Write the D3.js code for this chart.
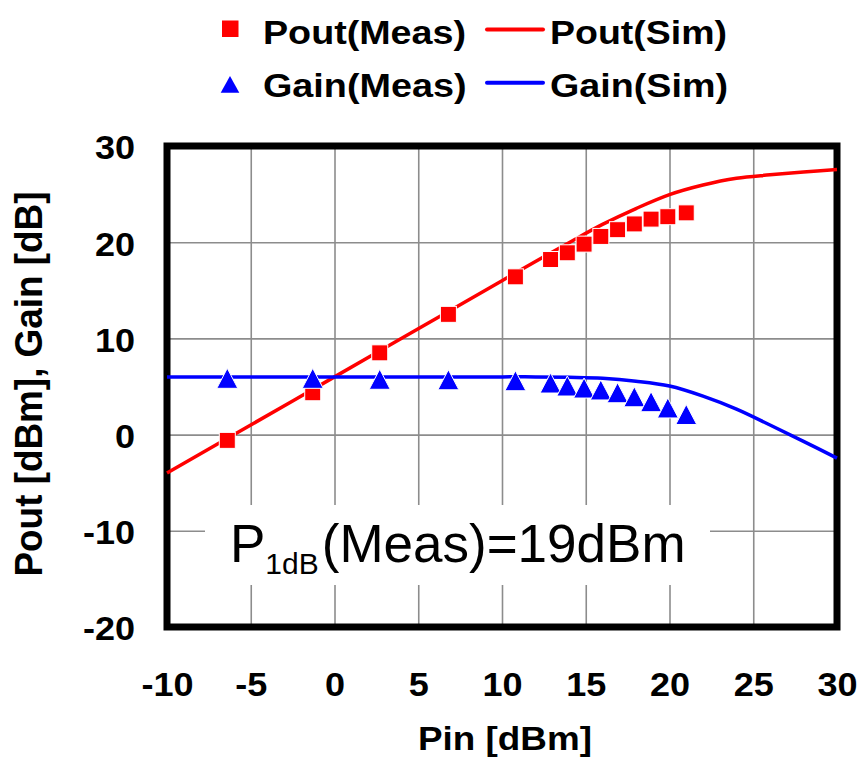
<!DOCTYPE html>
<html>
<head>
<meta charset="utf-8">
<script src="https://cdn.jsdelivr.net/npm/d3@7"></script>
<style>
    body { margin: 0; background: #fff; }
    text { font-family: "Liberation Sans", Arial, sans-serif; }
</style>
</head>
<body>
<svg id="chart" width="865" height="759"></svg>
<script>
// Measured points (Pin in dBm)
const measPin  = [-6.4, -1.3, 2.7, 6.8, 10.8, 12.9, 13.9, 14.9, 15.9, 16.9, 17.9, 18.9, 19.9, 21.0];
const poutMeas = [-0.6, 4.35, 8.5, 12.5, 16.4, 18.2, 18.9, 19.8, 20.6, 21.3, 21.9, 22.4, 22.65, 23.05];
const gainMeas = [5.85, 5.85, 5.75, 5.7, 5.6, 5.36, 5.05, 4.84, 4.64, 4.35, 3.93, 3.42, 2.77, 2.09];

// Simulated curves
const simPin  = [-10, -5, 0, 5, 10, 12, 14, 16, 18, 20, 22, 24, 26, 28, 30];
const poutSim = [-4.0, 1.0, 6.0, 11.0, 16.0, 18.0, 19.95, 21.85, 23.5, 24.95, 25.95, 26.65, 27.0, 27.3, 27.55];
const gainSim = [6.0, 6.0, 6.0, 6.0, 6.0, 6.0, 5.95, 5.85, 5.55, 5.05, 4.0, 2.65, 1.0, -0.7, -2.45];

const xTicks = [-10, -5, 0, 5, 10, 15, 20, 25, 30];
const yTicks = [-20, -10, 0, 10, 20, 30];

const svg = d3.select("#chart");
const plotLeft = 167, plotRight = 837, plotTop = 146, plotBottom = 627;

const x = d3.scaleLinear().domain([-10, 30]).range([plotLeft, plotRight]);
const y = d3.scaleLinear().domain([-20, 30]).range([plotBottom, plotTop]);

// widen text a bit, the original font runs wider than ours
function stretch(sel, k) {
    sel.each(function() {
        let w = this.getComputedTextLength();
        d3.select(this).attr("textLength", w * k).attr("lengthAdjust", "spacingAndGlyphs");
    });
}

// Grid
let gx = svg.append("g")
    .attr("transform", "translate(0," + plotBottom + ")")
    .call(d3.axisBottom(x).tickValues(xTicks).tickSize(-(plotBottom - plotTop)).tickFormat(""));
let gy = svg.append("g")
    .attr("transform", "translate(" + plotLeft + ",0)")
    .call(d3.axisLeft(y).tickValues(yTicks).tickSize(-(plotRight - plotLeft)).tickFormat(""));
[gx, gy].forEach(function(g) {
    g.select(".domain").remove();
    g.selectAll("line").attr("stroke", "#8c8c8c").attr("stroke-width", 1.6);
});

// white box behind the annotation
svg.append("rect")
    .attr("x", 205).attr("y", 505)
    .attr("width", 505).attr("height", 80)
    .attr("fill", "#fff");

// Frame
svg.append("rect")
    .attr("x", plotLeft).attr("y", plotTop)
    .attr("width", plotRight - plotLeft).attr("height", plotBottom - plotTop)
    .attr("fill", "none").attr("stroke", "#000").attr("stroke-width", 7);

// Tick labels
let xl = svg.append("g")
    .attr("transform", "translate(0," + plotBottom + ")")
    .call(d3.axisBottom(x).tickValues(xTicks).tickSize(0).tickFormat(d => String(d)));
xl.select(".domain").remove();
xl.selectAll("text")
    .attr("y", 69).attr("dy", 0)
    .attr("font-size", 34).attr("font-weight", "bold").attr("fill", "#000")
    .attr("font-family", "Liberation Sans, Arial, sans-serif");
stretch(xl.selectAll("text"), 1.06);

let yl = svg.append("g")
    .attr("transform", "translate(" + plotLeft + ",0)")
    .call(d3.axisLeft(y).tickValues(yTicks).tickSize(0).tickPadding(32).tickFormat(d => String(d)));
yl.select(".domain").remove();
yl.selectAll("text")
    .attr("dy", "0.38em")
    .attr("font-size", 34).attr("font-weight", "bold").attr("fill", "#000")
    .attr("font-family", "Liberation Sans, Arial, sans-serif");
stretch(yl.selectAll("text"), 1.06);

// Axis titles
let xt = svg.append("text")
    .attr("x", 505).attr("y", 750)
    .attr("text-anchor", "middle")
    .attr("font-size", 33.5).attr("font-weight", "bold")
    .text("Pin [dBm]");
xt.attr("textLength", 174).attr("lengthAdjust", "spacingAndGlyphs");

svg.append("text")
    .attr("transform", "translate(42,384) scale(1.12,1) rotate(-90)")
    .attr("text-anchor", "middle")
    .attr("font-size", 34).attr("font-weight", "bold")
    .attr("textLength", 385).attr("lengthAdjust", "spacingAndGlyphs")
    .text("Pout [dBm], Gain [dB]");

// Annotation
let ann = svg.append("text")
    .attr("x", 230).attr("y", 562)
    .attr("font-size", 53).attr("fill", "#000");
ann.append("tspan").text("P");
ann.append("tspan").attr("font-size", 30).attr("dy", 12).attr("dx", 0).text("1dB");
ann.append("tspan").attr("dy", -12).attr("dx", 3).text("(Meas)=19dBm");

// Simulated lines
const line = d3.line().curve(d3.curveCatmullRom.alpha(0.5));
function simPts(vals) {
    return simPin.map((p, i) => [x(p), y(vals[i])]);
}
svg.append("path")
    .attr("d", line(simPts(poutSim)))
    .attr("fill", "none").attr("stroke", "#ff0000").attr("stroke-width", 3.5);
svg.append("path")
    .attr("d", line(simPts(gainSim)))
    .attr("fill", "none").attr("stroke", "#0000ff").attr("stroke-width", 3.5);

// Measured markers
const sq = 16;
svg.append("g").selectAll("rect")
    .data(measPin)
    .enter()
    .append("rect")
    .attr("x", (d) => x(d) - sq / 2)
    .attr("y", (d, i) => y(poutMeas[i]) - sq / 2)
    .attr("width", sq).attr("height", sq)
    .attr("fill", "#ff0000").attr("stroke", "#fff").attr("stroke-width", 1);

function triPath(cx, cy, w, h) {
    return "M" + cx + "," + (cy - h / 2) + "L" + (cx + w / 2) + "," + (cy + h / 2) +
        "L" + (cx - w / 2) + "," + (cy + h / 2) + "Z";
}
svg.append("g").selectAll("path")
    .data(measPin)
    .enter()
    .append("path")
    .attr("d", (d, i) => triPath(x(d), y(gainMeas[i]), 21, 20))
    .attr("fill", "#0000ff").attr("stroke", "#fff").attr("stroke-width", 1);

// Legend
let lg = svg.append("g");
lg.append("rect").attr("x", 222).attr("y", 20.5).attr("width", 16.5).attr("height", 16.5).attr("fill", "#ff0000");
lg.append("path").attr("d", triPath(230, 84.3, 18.6, 16.7)).attr("fill", "#0000ff");
lg.append("line").attr("x1", 487).attr("x2", 543).attr("y1", 29.5).attr("y2", 29.5)
    .attr("stroke", "#ff0000").attr("stroke-width", 4).attr("stroke-linecap", "round");
lg.append("line").attr("x1", 487).attr("x2", 543).attr("y1", 82.7).attr("y2", 82.7)
    .attr("stroke", "#0000ff").attr("stroke-width", 4).attr("stroke-linecap", "round");

const legendItems = [
    {t: "Pout(Meas)", x: 263, y: 43.5, w: 203},
    {t: "Gain(Meas)", x: 263, y: 96.5, w: 203.5},
    {t: "Pout(Sim)", x: 550, y: 43.5, w: 177},
    {t: "Gain(Sim)", x: 550, y: 96.5, w: 178}
];
lg.selectAll("text.leg")
    .data(legendItems)
    .enter()
    .append("text")
    .attr("class", "leg")
    .attr("x", d => d.x).attr("y", d => d.y)
    .attr("font-size", 33).attr("font-weight", "bold")
    .attr("textLength", d => d.w).attr("lengthAdjust", "spacingAndGlyphs")
    .text(d => d.t);
</script>
</body>
</html>
